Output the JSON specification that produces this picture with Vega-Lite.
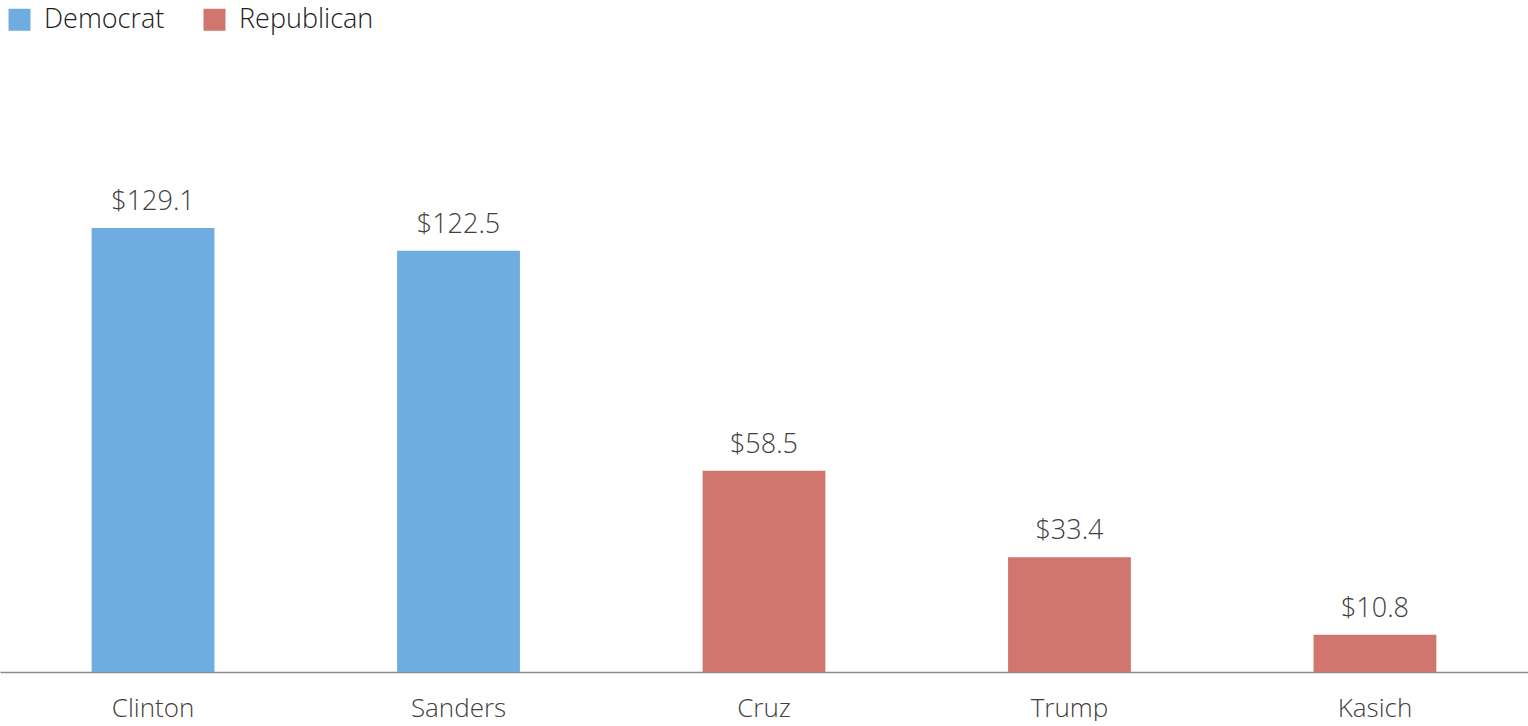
{
  "$schema": "https://vega.github.io/schema/vega-lite/v6.json",
  "width": 1528,
  "height": 672,
  "padding": 0,
  "background": "white",
  "config": {"view": {"stroke": null}, "font": "Open Sans"},
  "data": {"values": [
    {"candidate": "Clinton", "party": "Democrat", "amount": 129.1},
    {"candidate": "Sanders", "party": "Democrat", "amount": 122.5},
    {"candidate": "Cruz", "party": "Republican", "amount": 58.5},
    {"candidate": "Trump", "party": "Republican", "amount": 33.4},
    {"candidate": "Kasich", "party": "Republican", "amount": 10.8}
  ]},
  "encoding": {
    "x": {"field": "candidate", "type": "nominal", "sort": null,
      "scale": {"paddingInner": 0.598, "paddingOuter": 0.3},
      "axis": {"title": null, "labelAngle": 0, "ticks": false, "domainColor": "#8c8c8c", "domainWidth": 1.5,
        "labelFont": "Open Sans", "labelFontSize": 26, "labelColor": "#404040", "labelPadding": 23, "labelFontWeight": 300}},
    "y": {"field": "amount", "type": "quantitative",
      "scale": {"domain": [0, 195.4], "nice": false, "zero": true},
      "axis": null}
  },
  "layer": [
    {"mark": {"type": "bar"},
     "encoding": {"color": {"field": "party", "type": "nominal",
       "scale": {"domain": ["Democrat", "Republican"], "range": ["#6FACE0", "#D0766E"]},
       "legend": {"title": null, "orient": "none", "legendX": 6, "legendY": 6, "direction": "horizontal",
         "symbolType": "square", "symbolSize": 484, "symbolStrokeWidth": 0, "labelFontSize": 27, "labelFont": "Open Sans",
         "labelFontWeight": 300, "labelColor": "#202020", "labelOffset": 11, "columnPadding": 36, "symbolOffset": 0}}}},
    {"mark": {"type": "text", "baseline": "alphabetic", "dy": -18, "fontSize": 27, "color": "#404040", "font": "Open Sans", "fontWeight": 300},
     "encoding": {"text": {"field": "amount", "type": "quantitative", "format": "$.1f"}}}
  ]
}
